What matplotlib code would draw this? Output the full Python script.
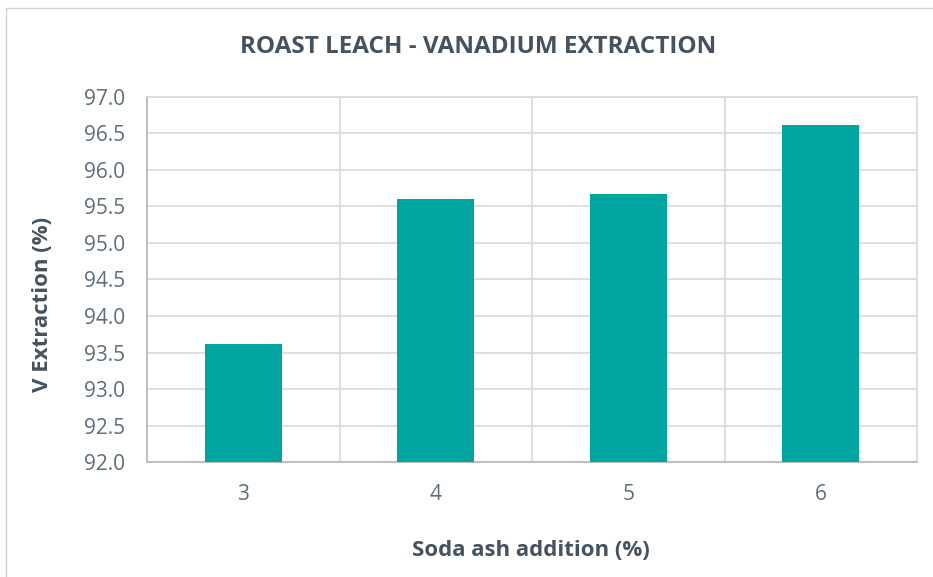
import matplotlib.pyplot as plt
from matplotlib.patches import Rectangle

soda_ash = ["3", "4", "5", "6"]
v_extraction = [93.62, 95.60, 95.67, 96.62]
y_ticks = [92.0, 92.5, 93.0, 93.5, 94.0, 94.5, 95.0, 95.5, 96.0, 96.5, 97.0]

plt.rcParams["font.family"] = ["Open Sans", "DejaVu Sans"]

fig = plt.figure(figsize=(9.33, 5.77), dpi=100)
ax = fig.add_axes([0.1576, 0.1993, 0.8253, 0.6326])

# outer chart frame (only left/top visible in the reference)
fig.patches.append(Rectangle((0.006, -0.1), 1.2, 1.086, transform=fig.transFigure,
                             fill=False, edgecolor="#c9d3dc", linewidth=1.0))

ax.bar(range(len(soda_ash)), [v - 92.0 for v in v_extraction], bottom=92.0,
       width=0.4, color="#00a59f", zorder=3)

ax.set_xlim(-0.5, len(soda_ash) - 0.5)
ax.set_ylim(92.0, 97.0)
ax.set_yticks(y_ticks)
ax.set_yticklabels([f"{t:.1f}" for t in y_ticks])
ax.set_xticks(range(len(soda_ash)))
ax.set_xticklabels(soda_ash)

# vertical gridlines between categories
ax.set_xticks([0.5, 1.5, 2.5], minor=True)
ax.grid(True, axis="y", which="major", color="#d9d9d9", linewidth=1.2, zorder=0)
ax.grid(True, axis="x", which="minor", color="#d9d9d9", linewidth=1.2, zorder=0)
ax.tick_params(which="both", length=0)
ax.tick_params(axis="y", pad=16, labelsize=15, labelcolor="#5b6e7c")
ax.tick_params(axis="x", pad=16, labelsize=15, labelcolor="#5b6e7c")

for s in ax.spines.values():
    s.set_color("#d9d9d9")
    s.set_linewidth(1.2)
ax.spines["bottom"].set_color("#bfbfbf")
ax.spines["bottom"].set_linewidth(1.5)
ax.spines["left"].set_color("#bfbfbf")
ax.spines["left"].set_linewidth(1.5)

fig.text(0.512, 0.918, "ROAST LEACH - VANADIUM EXTRACTION", ha="center", va="center",
         fontsize=17.5, fontweight="bold", color="#44535f")
fig.text(531 / 933, 1 - 550 / 577, "Soda ash addition (%)", ha="center", va="center",
         fontsize=16, fontweight="bold", color="#44535f")
fig.text(43 / 933, 1 - 304 / 577, "V Extraction (%)", ha="center", va="center",
         rotation=90, fontsize=16, fontweight="bold", color="#44535f")

fig.savefig("out.png", dpi=100)
